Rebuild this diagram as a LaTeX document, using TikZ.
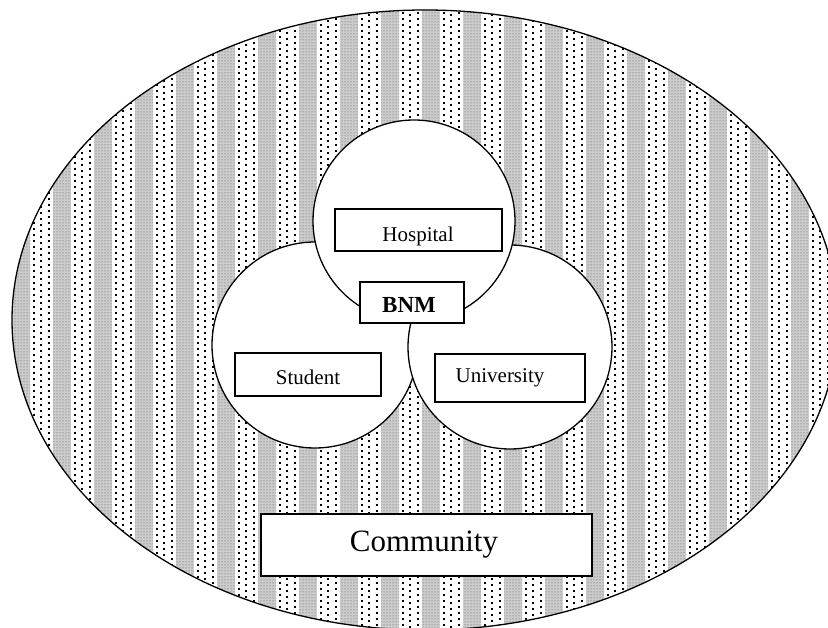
\documentclass[tikz,border=0pt]{standalone}
\usepackage{fontspec}
\setmainfont{Liberation Serif}
\usetikzlibrary{patterns}
\begin{document}
\begin{tikzpicture}[x=1pt,y=-1pt,
  ring/.style={draw=black,line width=1.3pt,fill=white},
  labelbox/.style={draw=black,line width=1.4pt,fill=white,rectangle,inner sep=0pt,
    font=\fontsize{21}{21}\selectfont},
  band/.style={fill=black!20},
  bandots/.style={pattern=dots,pattern color=black!70},
  dots/.style={line width=2.1pt,dash pattern=on 2.1pt off 3.9pt}]
\useasboundingbox (0,0) rectangle (828,628);
% community ellipse with striped pattern
\fill[white] (425,320) ellipse [x radius=413, y radius=310];
\begin{scope}
  \clip (425,320) ellipse [x radius=413, y radius=310];
  \foreach \k in {-1,...,21}{
    \pgfmathsetmacro{\xo}{12+41*\k}
    \fill[band] (\xo,0) rectangle ++(18,640);
    \fill[bandots] (\xo,0) rectangle ++(18,640);
    \draw[dots] (\xo+22,0) -- ++(0,640);
    \draw[dots] (\xo+29,2) -- ++(0,640);
    \draw[dots] (\xo+37,0) -- ++(0,640);
  }
\end{scope}
\draw[line width=1.3pt] (425,320) ellipse [x radius=413, y radius=310];
% circles
\node[ring,circle,minimum size=206pt,inner sep=0pt] (cs) at (315,345) {};
\node[ring,circle,minimum size=204pt,inner sep=0pt] (cu) at (510,347) {};
\node[ring,circle,minimum size=202pt,inner sep=0pt] (ch) at (414,221) {};
% boxes
\node[labelbox,minimum width=167pt,minimum height=42pt] (hosp) at (418.5,230) {};
\node[font=\fontsize{21}{21}\selectfont] (hospt) at (418,236) {Hospital};
\node[labelbox,minimum width=104pt,minimum height=41pt] (bnm) at (412,302.5) {};
\node[font=\fontsize{23}{23}\selectfont\bfseries] (bnmt) at (409,305) {BNM};
\node[labelbox,minimum width=146pt,minimum height=43pt] (stud) at (308,374.5) {};
\node[font=\fontsize{21}{21}\selectfont] (studt) at (308,377) {Student};
\node[labelbox,minimum width=150pt,minimum height=48pt] (univ) at (510,378) {};
\node[font=\fontsize{21}{21}\selectfont] (univt) at (500,378) {University};
\node[labelbox,minimum width=331pt,minimum height=62pt] (comm) at (426.5,545) {};
\node[font=\fontsize{31}{31}\selectfont] (commt) at (424,545) {Community};
\end{tikzpicture}
\end{document}
